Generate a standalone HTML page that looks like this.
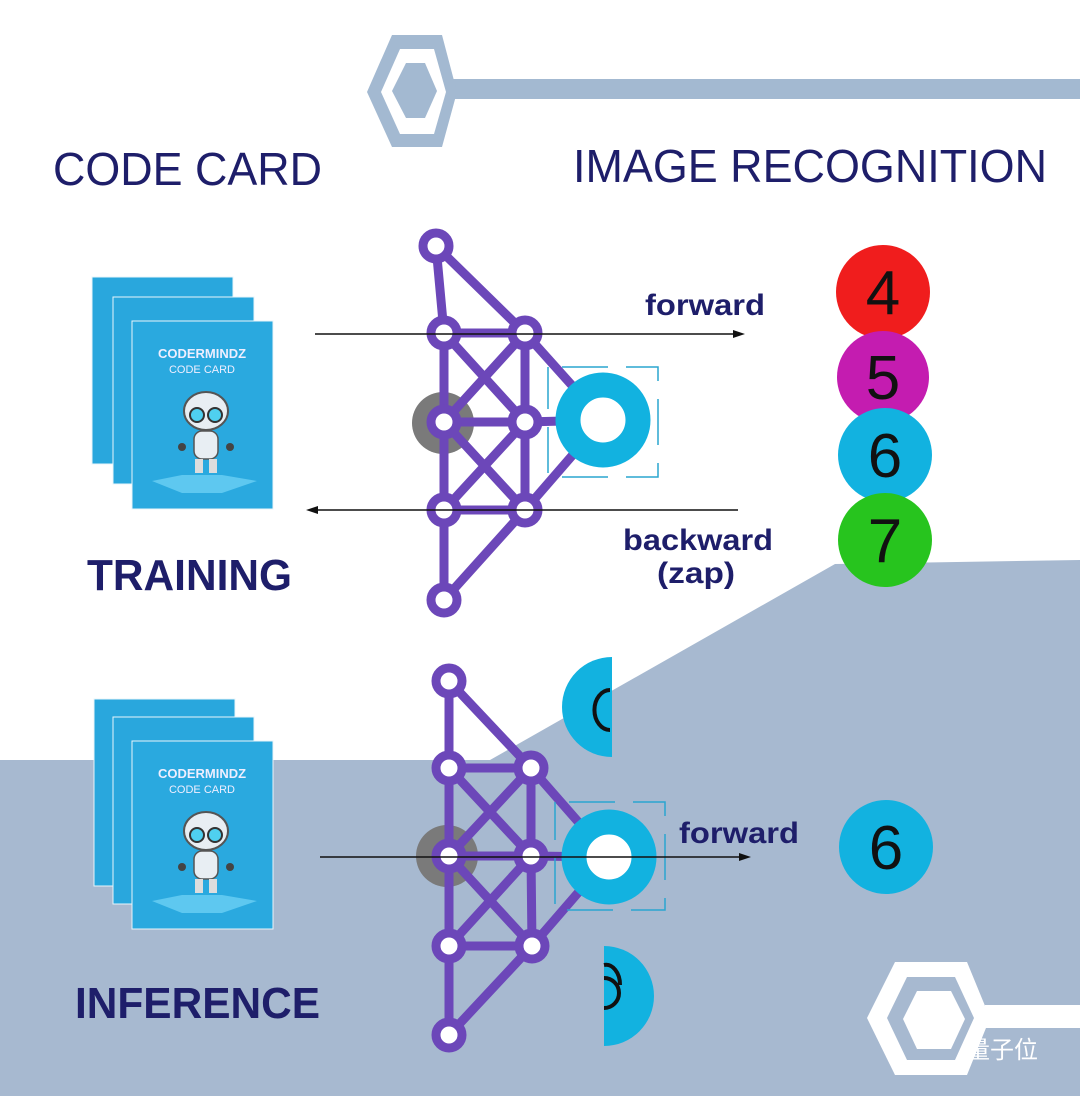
<!DOCTYPE html>
<html><head><meta charset="utf-8"><style>
html,body{margin:0;padding:0;background:#fff}
svg{display:block}
</style></head><body>
<svg width="1080" height="1096" viewBox="0 0 1080 1096" xmlns="http://www.w3.org/2000/svg" font-family="Liberation Sans, sans-serif">
<rect width="1080" height="1096" fill="#fff"/>
<polygon points="0,760 490,760 835,564 1080,560 1080,1096 0,1096" fill="#a7b9d0"/>
<!-- top hex -->
<rect x="450" y="79" width="630" height="20" fill="#a3b9d1"/>
<polygon points="367,92 392,35 442,35 457,92 442,147 392,147" fill="#a3b9d1"/>
<polygon points="381,92 400,49 434,49 446,92 434,134 400,134" fill="#fff"/>
<polygon points="392,91 406,63 425,63 437,91 425,118 406,118" fill="#a3b9d1"/>
<!-- bottom hex -->
<rect x="985" y="1005" width="95" height="23" fill="#fff"/>
<polygon points="867,1018 895,962 967,962 990,1018 967,1075 895,1075" fill="#fff"/>
<polygon points="887,1018 907,977 955,977 974,1018 955,1060 907,1060" fill="#a7b9d0"/>
<polygon points="903,1019 917,991 951,991 965,1019 951,1049 917,1049" fill="#fff"/>
<text x="966" y="1058" font-family="Liberation Sans, Noto Sans CJK SC, sans-serif" font-size="24" fill="#fff">量子位</text>
<!-- titles -->
<g fill="#1e1e6a">
<text x="53" y="185" font-size="46" textLength="269" lengthAdjust="spacingAndGlyphs">CODE CARD</text>
<text x="573" y="182" font-size="46" textLength="474" lengthAdjust="spacingAndGlyphs">IMAGE RECOGNITION</text>
<text x="87" y="590" font-size="44" font-weight="bold" textLength="205" lengthAdjust="spacingAndGlyphs">TRAINING</text>
<text x="75" y="1018" font-size="44" font-weight="bold" textLength="245" lengthAdjust="spacingAndGlyphs">INFERENCE</text>
<text x="645" y="315" font-size="30" font-weight="bold" textLength="120" lengthAdjust="spacingAndGlyphs">forward</text>
<text x="623" y="550" font-size="30" font-weight="bold" textLength="150" lengthAdjust="spacingAndGlyphs">backward</text>
<text x="657" y="583" font-size="30" font-weight="bold" textLength="78" lengthAdjust="spacingAndGlyphs">(zap)</text>
<text x="679" y="843" font-size="30" font-weight="bold" textLength="120" lengthAdjust="spacingAndGlyphs">forward</text>
</g>
<!-- cards -->
<defs>
<g id="card">
<rect x="0" y="0" width="141" height="187" fill="#29a7dd" stroke="#e8f4fa" stroke-width="1"/>
</g>
<g id="front">
<rect x="0" y="0" width="141" height="188" fill="#2aa9df" stroke="#e8f4fa" stroke-width="1"/>
<text x="70" y="37" font-size="13" font-weight="bold" fill="#eef" text-anchor="middle">CODERMINDZ</text>
<text x="70" y="52" font-size="11" fill="#eef" text-anchor="middle">CODE CARD</text>
<polygon points="20,160 50,154 90,154 125,160 90,172 50,172" fill="#5ec8f0"/>
<ellipse cx="74" cy="90" rx="22" ry="19" fill="#e8eef3" stroke="#555" stroke-width="2"/>
<circle cx="65" cy="94" r="7" fill="#4fd0f0" stroke="#333" stroke-width="2"/>
<circle cx="83" cy="94" r="7" fill="#4fd0f0" stroke="#333" stroke-width="2"/>
<rect x="62" y="110" width="24" height="28" rx="8" fill="#e8eef3" stroke="#555" stroke-width="1.5"/>
<rect x="63" y="138" width="8" height="14" fill="#ddd"/>
<rect x="77" y="138" width="8" height="14" fill="#ddd"/>
<circle cx="50" cy="126" r="4" fill="#444"/><circle cx="98" cy="126" r="4" fill="#444"/>
</g>
</defs>
<use href="#card" x="92" y="277"/>
<use href="#card" x="113" y="297"/>
<use href="#front" x="132" y="321"/>
<use href="#card" x="94" y="699"/>
<use href="#card" x="113" y="717"/>
<use href="#front" x="132" y="741"/>
<!-- number circles -->
<circle cx="883" cy="292" r="47" fill="#f01d1d"/>
<circle cx="883" cy="377" r="46" fill="#c41cb0"/>
<circle cx="885" cy="455" r="47" fill="#12b2e0"/>
<circle cx="885" cy="540" r="47" fill="#27c41e"/>
<circle cx="886" cy="847" r="47" fill="#12b2e0"/>
<g font-size="62" fill="#111" text-anchor="middle">
<text x="883" y="314">4</text><text x="883" y="399">5</text><text x="885" y="477">6</text><text x="885" y="562">7</text><text x="886" y="869">6</text>
</g>
<!-- half circles -->
<path d="M612,657 A50,50 0 0 0 612,757 Z" fill="#12b2e0"/>
<path d="M604,946 A50,50 0 0 1 604,1046 Z" fill="#12b2e0"/>
<path d="M610,690 A14,18 0 0 0 610,730" fill="none" stroke="#111" stroke-width="4"/>
<path d="M604,965 A14,20 0 0 1 620,985 M604,978 A15,15 0 1 1 604,1008" fill="none" stroke="#111" stroke-width="4"/>
<!-- top network -->
<circle cx="443" cy="423" r="31" fill="#7a7a7a"/>
<g stroke="#6c47b9" stroke-width="9" fill="none">
<path d="M436,246L444,333M436,246L525,333M444,333L525,333M444,333L444,422M525,333L525,422M444,333L525,422M525,333L444,422M444,422L525,422M444,422L444,510M525,422L525,510M444,422L525,510M525,422L444,510M444,510L525,510M444,510L444,600M525,510L444,600M525,333L603,420M525,422L603,420M525,510L603,420"/>
</g>
<g stroke="#6c47b9" stroke-width="9" fill="#fff">
<circle cx="436" cy="246" r="13"/><circle cx="444" cy="333" r="13"/><circle cx="525" cy="333" r="13"/>
<circle cx="444" cy="422" r="13"/><circle cx="525" cy="422" r="13"/><circle cx="444" cy="510" r="13"/>
<circle cx="525" cy="510" r="13"/><circle cx="444" cy="600" r="13"/>
</g>
<rect x="548" y="367" width="110" height="110" fill="none" stroke="#2aa6cf" stroke-width="1.5" stroke-dasharray="46,18" stroke-dashoffset="-14"/>
<circle cx="603" cy="420" r="35" fill="#fff" stroke="#12b2e0" stroke-width="25"/>
<!-- bottom network -->
<circle cx="447" cy="856" r="31" fill="#7a7a7a"/>
<g stroke="#6c47b9" stroke-width="9" fill="none">
<path d="M449,681L449,768M449,681L531,768M449,768L531,768M449,768L449,856M531,768L531,856M449,768L531,856M531,768L449,856M449,856L531,856M449,856L449,946M531,856L532,946M449,856L532,946M531,856L449,946M449,946L532,946M449,946L449,1035M532,946L449,1035M531,768L609,857M531,856L609,857M532,946L609,857"/>
</g>
<g stroke="#6c47b9" stroke-width="9" fill="#fff">
<circle cx="449" cy="681" r="13"/><circle cx="449" cy="768" r="13"/><circle cx="531" cy="768" r="13"/>
<circle cx="449" cy="856" r="13"/><circle cx="531" cy="856" r="13"/><circle cx="449" cy="946" r="13"/>
<circle cx="532" cy="946" r="13"/><circle cx="449" cy="1035" r="13"/>
</g>
<rect x="555" y="802" width="110" height="108" fill="none" stroke="#2aa6cf" stroke-width="1.5" stroke-dasharray="46,18" stroke-dashoffset="-14"/>
<circle cx="609" cy="857" r="35" fill="#fff" stroke="#12b2e0" stroke-width="25"/>
<!-- arrows -->
<g stroke="#111" stroke-width="1.6">
<line x1="315" y1="334" x2="742" y2="334"/>
<line x1="310" y1="510" x2="738" y2="510"/>
<line x1="320" y1="857" x2="748" y2="857"/>
</g>
<g fill="#111">
<polygon points="745,334 733,330 733,338"/>
<polygon points="306,510 318,506 318,514"/>
<polygon points="751,857 739,853 739,861"/>
</g>
</svg>
</body></html>
